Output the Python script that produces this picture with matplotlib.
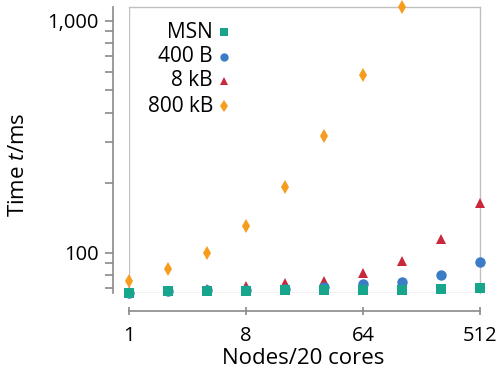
import matplotlib
matplotlib.use("Agg")
import matplotlib.pyplot as plt
from matplotlib.ticker import FixedLocator, NullFormatter

plt.rcParams['font.family'] = ['Open Sans', 'DejaVu Sans']
plt.rcParams['mathtext.fontset'] = 'custom'
plt.rcParams['mathtext.rm'] = 'Open Sans'
plt.rcParams['mathtext.it'] = 'Open Sans:italic'

# Data: run time versus node count (20 cores per node)
nodes = [1, 2, 4, 8, 16, 32, 64, 128, 256, 512]
t_msn = [66.7, 68.0, 68.5, 68.5, 68.8, 69.0, 69.0, 69.2, 69.6, 70.3]
t_400b = [67.0, 68.3, 68.7, 69.0, 69.5, 70.7, 72.8, 74.9, 80.3, 91.4]
t_8kb = [67.5, 68.5, 69.5, 71.5, 73.8, 75.7, 81.3, 92.3, 114.5, 163.5]
nodes_800kb = [1, 2, 4, 8, 16, 32, 64, 128]
t_800kb = [75.7, 84.6, 99.3, 130.0, 191.7, 318.8, 583.8, 1146.0]

series_names = ["MSN", "400 B", "8 kB", "800 kB"]
x_ticks = [1, 8, 64, 512]
y_major = [100, 1000]
y_major_labels = ["100", "1,000"]
y_minor = [70, 80, 90, 200, 300, 400, 500, 600, 700, 800, 900]

c_msn = "#17a68c"
c_400b = "#3a7cc6"
c_8kb = "#c9283a"
c_800kb = "#f79d1e"

W, H = 502, 368
fig = plt.figure(figsize=(W / 100, H / 100), dpi=100)

def fx(px):
    return px / W

def fy(py):
    return 1 - py / H

left, right, top, bottom = 129.3, 480.0, 6.8, 293.3
ax = fig.add_axes([fx(left), fy(bottom), fx(right) - fx(left), fy(top) - fy(bottom)])

ax.set_xscale('log', base=2)
ax.set_yscale('log')
ax.set_xlim(1, 512)
ax.set_ylim(min(t_msn), max(t_800kb))

ms = dict(linestyle='none', clip_on=False, markeredgewidth=0)
ax.plot(nodes_800kb, t_800kb, marker='d', markersize=7.5, color=c_800kb, zorder=3, **ms)
ax.plot(nodes, t_8kb, marker='^', markersize=6.5, color=c_8kb, zorder=4, **ms)
ax.plot(nodes, t_400b, marker='o', markersize=7.5, color=c_400b, zorder=5, **ms)
ax.plot(nodes, t_msn, marker='s', markersize=7.2, color=c_msn, zorder=6, **ms)

# Light frame around the plotting region
for side in ('top', 'right'):
    ax.spines[side].set_color('#c0c0c0')
    ax.spines[side].set_linewidth(1.0)
ax.axvline(1, color='#c0c0c0', lw=1.0, zorder=1)
ax.axhline(min(t_msn), color='#c0c0c0', lw=1.0, zorder=1)

# Detached axis lines
axis_col = '#8a8a8a'
ax.spines['left'].set_position(('outward', 11.7))
ax.spines['bottom'].set_position(('outward', 13.0))
for side in ('left', 'bottom'):
    ax.spines[side].set_color(axis_col)
    ax.spines[side].set_linewidth(1.2)

ax.xaxis.set_major_locator(FixedLocator(x_ticks))
ax.xaxis.set_minor_locator(FixedLocator([]))
ax.set_xticks(x_ticks)
ax.set_xticklabels([str(v) for v in x_ticks])
ax.set_yticks(y_major)
ax.set_yticklabels(y_major_labels)
ax.yaxis.set_minor_locator(FixedLocator(y_minor))
ax.yaxis.set_minor_formatter(NullFormatter())

ax.tick_params(axis='x', which='major', direction='inout', length=6, width=1.2,
               color=axis_col, labelsize=14.5, pad=7.5)
ax.tick_params(axis='y', which='both', direction='out', length=6, width=1.2,
               color=axis_col, labelsize=14.5, pad=4.5)

fig.text(fx(303.5), fy(358.5), "Nodes/20 cores", ha='center', va='center', fontsize=16)
fig.text(fx(19), fy(165), "Time $t$/ms", ha='center', va='center', rotation=90, fontsize=16)

# Key: right-aligned names with a marker to their right
key_rows = [32, 57, 81, 106]
key_markers = ['s', 'o', '^', 'd']
key_sizes = [5.5, 6, 5.5, 6]
key_colors = [c_msn, c_400b, c_8kb, c_800kb]
for name, yy, mk, sz, col in zip(series_names, key_rows, key_markers, key_sizes, key_colors):
    fig.text(fx(213), fy(yy), name, ha='right', va='center', fontsize=15)
    fig.add_artist(plt.Line2D([fx(224)], [fy(yy)], marker=mk, markersize=sz, color=col,
                              markeredgewidth=0, linestyle='none', transform=fig.transFigure))

fig.savefig("out.png", dpi=100)
